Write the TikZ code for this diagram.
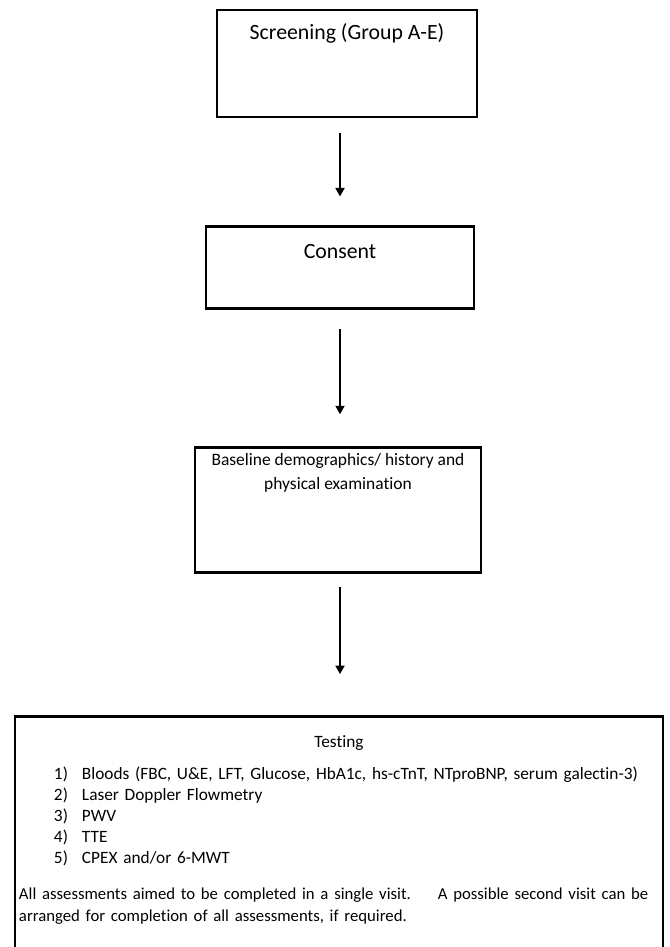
\documentclass[tikz,border=0pt]{standalone}
\usepackage{fontspec}
\setmainfont{Carlito}[Ligatures=NoCommon]
\usetikzlibrary{positioning,arrows.meta}
\tikzset{box/.style={rectangle,draw,line width=2pt,inner sep=0pt},
  flow/.style={-{Triangle[length=6pt,width=6.5pt]},line width=1pt},
  boxtext/.style={inner sep=0pt,font=\fontsize{15.5}{18}\selectfont},}
\newcommand{\testline}[2]{\hspace*{0.875cm}\makebox[0.7cm][l]{#1}#2\par}

\begin{document}
\begin{tikzpicture}
    \path[use as bounding box,fill=white] (0,0) rectangle (16.75,-23.675);
    \clip (0,0) rectangle (16.75,-23.675);

    \node[box,minimum width=6.5cm,minimum height=2.675cm,
      label={[boxtext,anchor=base,yshift=-0.77cm]north:Screening (Group A-E)}] (screen) at (8.675,-1.5875) {};
    \node[box,minimum width=6.7cm,minimum height=2.05cm,
      label={[boxtext,anchor=base,yshift=-0.83cm]north:Consent}] (consent) [below=2.675cm of screen, xshift=-0.175cm] {};
    \node[box,minimum width=7.15cm,minimum height=3.125cm,
      label={[boxtext,anchor=north,align=center,font=\fontsize{12.4}{17}\selectfont]north:{\rule{0pt}{0.48cm}Baseline demographics/ history and\\physical examination}}] (base) [below=3.4cm of consent, xshift=-0.05cm] {};
    \node[box,text width=16cm,inner xsep=0.1cm,inner ysep=0pt,align=left,
      font=\fontsize{12.3}{14.9}\selectfont] (test) [below=3.525cm of base, xshift=0.025cm] {%
      \parindent=0pt
      \centering\rule{0pt}{0.775cm}Testing\par
      \raggedright\vspace{0.275cm}
      \testline{1)}{Bloods (FBC, U\&E, LFT, Glucose, HbA1c, hs-cTnT, NTproBNP, serum galectin-3)}
      \testline{2)}{Laser Doppler Flowmetry}
      \testline{3)}{PWV}
      \testline{4)}{TTE}
      \testline{5)}{CPEX and/or 6-MWT}
      \vspace{0.375cm}
      {\fontsize{11.9}{15.4}\selectfont
      \mbox{All assessments aimed to be completed in a single visit.\hspace{1.1em} A possible second visit can be}\\
      arranged for completion of all assessments, if required.\rule[-1.5cm]{0pt}{1.5cm}\par}};

    \draw[flow,shorten <=0.375cm,shorten >=0.725cm] (screen.south -| consent) -- (consent.north);
    \draw[flow,shorten <=0.475cm,shorten >=0.8cm] (consent.south) -- (consent.south |- base.north);
    \draw[flow,shorten <=0.325cm,shorten >=1.025cm] (base.south -| consent) -- (consent |- test.north);
\end{tikzpicture}
\end{document}
